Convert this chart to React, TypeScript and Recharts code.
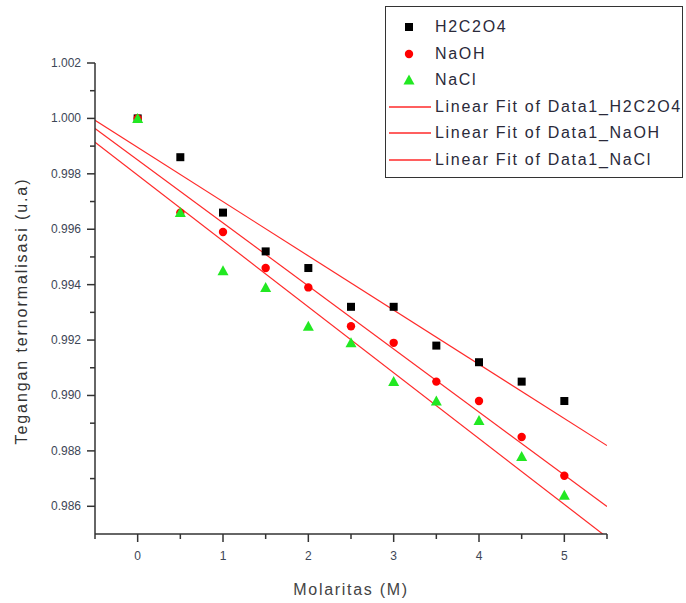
import { ScatterChart, Scatter, XAxis, YAxis, ReferenceLine } from "recharts"

const molar = [0, 0.5, 1, 1.5, 2, 2.5, 3, 3.5, 4, 4.5, 5]
const h2c2o4 = [1.0, 0.9986, 0.9966, 0.9952, 0.9946, 0.9932, 0.9932, 0.9918, 0.9912, 0.9905, 0.9898]
const naoh = [1.0, 0.9966, 0.9959, 0.9946, 0.9939, 0.9925, 0.9919, 0.9905, 0.9898, 0.9885, 0.9871]
const nacl = [1.0, 0.9966, 0.9945, 0.9939, 0.9925, 0.9919, 0.9905, 0.9898, 0.9891, 0.9878, 0.9864]

// linear fit end points read at x = -0.5 and x = 5.5
const fitX = [-0.5, 5.5]
const fitH2c2o4 = [0.99993, 0.98819]
const fitNaoh = [0.99964, 0.98599]
const fitNacl = [0.99914, 0.98488]

const xTicks = [-0.5, 0, 0.5, 1, 1.5, 2, 2.5, 3, 3.5, 4, 4.5, 5, 5.5]
const yTicks = [0.986, 0.987, 0.988, 0.989, 0.99, 0.991, 0.992, 0.993, 0.994, 0.995, 0.996, 0.997, 0.998, 0.999, 1.0, 1.001, 1.002]

const legendNames = ["H2C2O4", "NaOH", "NaCl", "Linear Fit of Data1_H2C2O4", "Linear Fit of Data1_NaOH", "Linear Fit of Data1_NaCl"]

const toPoints = (ys: number[]) => molar.map((x, i) => ({ x, y: ys[i] }))

const font = "'Liberation Sans', Arial, sans-serif"
const axisColor = "#333"
const labelColor = "#3d4656"
const fitColor = "#ff2a2a"

const Square = (p: any) => <rect x={p.cx - 4} y={p.cy - 4} width={8} height={8} fill="#000" />
const Dot = (p: any) => <circle cx={p.cx} cy={p.cy} r={4.2} fill="#ff0000" />
const Tri = (p: any) => (
  <polygon points={`${p.cx},${p.cy - 5.5} ${p.cx - 5.5},${p.cy + 4.5} ${p.cx + 5.5},${p.cy + 4.5}`} fill="#22e822" />
)

const XTick = (p: any) => {
  const v = p.payload.value
  const major = Number.isInteger(v)
  return (
    <g>
      <line x1={p.x} x2={p.x} y1={p.y} y2={p.y + (major ? 8 : 5)} stroke={axisColor} strokeWidth={1.5} />
      {major && (
        <text x={p.x} y={p.y + 26} textAnchor="middle" fontSize={12} fill={labelColor} fontFamily={font}>
          {v}
        </text>
      )}
    </g>
  )
}

const YTick = (p: any) => {
  const v = p.payload.value
  const major = Math.round(v * 1000) % 2 === 0
  return (
    <g>
      <line x1={p.x} x2={p.x - (major ? 8 : 5)} y1={p.y} y2={p.y} stroke={axisColor} strokeWidth={1.5} />
      {major && (
        <text x={p.x - 14} y={p.y + 4} textAnchor="end" fontSize={12} fill={labelColor} fontFamily={font}>
          {v.toFixed(3)}
        </text>
      )}
    </g>
  )
}

function Legend() {
  return (
    <div
      style={{
        position: "absolute",
        left: 385,
        top: 6,
        width: 296,
        height: 170,
        border: "1.5px solid #333",
        background: "#fff",
        fontFamily: font,
        fontSize: 16,
        color: "#2a2a3a",
        letterSpacing: 1.7,
      }}
    >
      {legendNames.map((name, i) => (
        <div key={name} style={{ position: "absolute", left: 0, top: 9 + i * 26.5, height: 22, display: "flex", alignItems: "center" }}>
          <svg width={48} height={22}>
            {i === 0 && <rect x={19} y={7} width={8} height={8} fill="#000" />}
            {i === 1 && <circle cx={23} cy={11} r={4.2} fill="#ff0000" />}
            {i === 2 && <polygon points="23,5.5 17.5,15.5 28.5,15.5" fill="#22e822" />}
            {i > 2 && <line x1={3} x2={45} y1={11} y2={11} stroke={fitColor} strokeWidth={1.5} />}
          </svg>
          <span style={{ marginLeft: 1 }}>{name}</span>
        </div>
      ))}
    </div>
  )
}

export default function App() {
  const fits = [fitH2c2o4, fitNaoh, fitNacl]
  return (
    <div style={{ position: "absolute", left: 0, top: 0, width: 686, height: 603, background: "#fff" }}>
      <ScatterChart width={686} height={603} margin={{ top: 63, right: 79, bottom: 0, left: 0 }}>
        <XAxis
          type="number"
          dataKey="x"
          domain={[-0.5, 5.5]}
          ticks={xTicks}
          allowDataOverflow
          height={69}
          tickSize={0}
          tickMargin={0}
          tickLine={false}
          tick={<XTick />}
          axisLine={{ stroke: axisColor, strokeWidth: 1.5 }}
          interval={0}
        />
        <YAxis
          type="number"
          dataKey="y"
          domain={[0.985, 1.002]}
          ticks={yTicks}
          allowDataOverflow
          width={95}
          tickSize={0}
          tickMargin={0}
          tickLine={false}
          tick={<YTick />}
          axisLine={{ stroke: axisColor, strokeWidth: 1.5 }}
          interval={0}
        />
        <Scatter name="H2C2O4" data={toPoints(h2c2o4)} shape={Square} isAnimationActive={false} />
        <Scatter name="NaOH" data={toPoints(naoh)} shape={Dot} isAnimationActive={false} />
        <Scatter name="NaCl" data={toPoints(nacl)} shape={Tri} isAnimationActive={false} />
        {fits.map((f, i) => (
          <ReferenceLine
            key={i}
            segment={[
              { x: fitX[0], y: f[0] },
              { x: fitX[1], y: f[1] },
            ]}
            stroke={fitColor}
            strokeWidth={1.2}
            ifOverflow="hidden"
          />
        ))}
      </ScatterChart>
      <div
        style={{
          position: "absolute",
          left: 351,
          top: 590,
          transform: "translate(-50%, -50%)",
          fontFamily: font,
          fontSize: 16,
          letterSpacing: 1.7,
          color: "#444",
          whiteSpace: "nowrap",
        }}
      >
        Molaritas (M)
      </div>
      <div
        style={{
          position: "absolute",
          left: 22,
          top: 311,
          transform: "translate(-50%, -50%) rotate(-90deg)",
          fontFamily: font,
          fontSize: 16,
          letterSpacing: 1.9,
          color: "#333",
          whiteSpace: "nowrap",
        }}
      >
        Tegangan ternormalisasi (u.a)
      </div>
      <Legend />
    </div>
  )
}
